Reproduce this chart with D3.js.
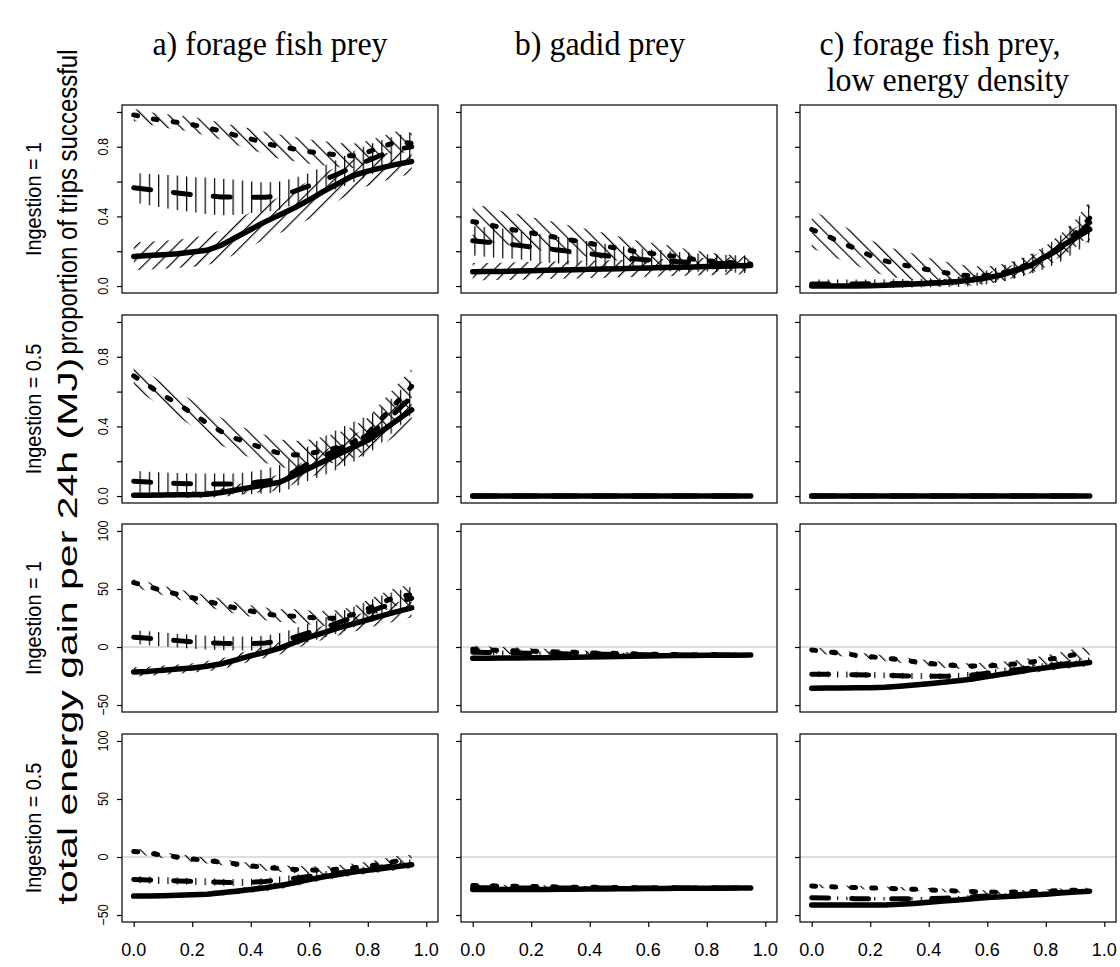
<!DOCTYPE html>
<html>
<head>
<meta charset="utf-8">
<script src="https://cdn.jsdelivr.net/npm/d3@7"></script>
<style>
  body { margin: 0; background: #fff; }
  svg { display: block; }
  text { font-family: "Liberation Sans", Arial, sans-serif; fill: #000; }
  .title { font-family: "Liberation Serif", "Times New Roman", serif; font-size: 34px; }
</style>
</head>
<body>
<svg id="chart" width="1120" height="967"></svg>
<script>
// proportion of colony in the good area (x axis)
const xVals = [0, 0.05, 0.1, 0.15, 0.2, 0.25, 0.3, 0.35, 0.4, 0.45, 0.5, 0.55, 0.6, 0.65, 0.7, 0.75, 0.8, 0.85, 0.9, 0.95];

const colTitles = ["a) forage fish prey", "b) gadid prey", "c) forage fish prey,"];
const colTitles2 = ["", "", "low energy density"];
const rowLabels = ["Ingestion = 1", "Ingestion = 0.5", "Ingestion = 1", "Ingestion = 0.5"];
const propLabel = "proportion of trips successful";
const energyLabel = "total energy gain per 24h (MJ)";

const propTicks = [0, 0.2, 0.4, 0.6, 0.8, 1.0];
const propTickLabels = [0, 0.4, 0.8];
const energyTicks = [-50, 0, 50, 100];
const xTicks = [0, 0.2, 0.4, 0.6, 0.8, 1.0];

// ---- row 1: proportion successful, ingestion = 1
const r1a_s = [.17,.175,.18,.185,.195,.205,.235,.28,.325,.37,.41,.45,.495,.545,.59,.635,.66,.68,.70,.715];
const r1a_s_ci = [.08,.08,.08,.08,.085,.085,.09,.095,.1,.1,.105,.11,.11,.105,.1,.09,.085,.08,.075,.07];
const r1a_d = [.983,.965,.95,.94,.927,.91,.89,.865,.845,.82,.80,.787,.772,.762,.752,.748,.77,.8,.83,.82];
const r1a_d_ci = [.035,.035,.04,.04,.045,.045,.05,.055,.06,.065,.07,.07,.07,.07,.07,.07,.065,.06,.06,.06];
const r1a_dd = [.565,.555,.545,.535,.525,.518,.512,.51,.51,.51,.52,.545,.575,.61,.645,.685,.72,.755,.785,.80];
const r1a_dd_ci = [.085,.09,.095,.1,.1,.105,.105,.1,.09,.085,.08,.075,.075,.08,.085,.09,.09,.085,.08,.08];

const r1b_s = [.082,.083,.084,.086,.088,.09,.092,.094,.096,.098,.1,.102,.104,.106,.108,.11,.112,.114,.116,.118];
const r1b_s_ci = [.05,.05,.05,.05,.05,.05,.05,.05,.05,.05,.05,.05,.05,.05,.05,.05,.05,.05,.05,.05];
const r1b_d = [.37,.355,.335,.32,.305,.29,.275,.26,.245,.23,.215,.2,.19,.18,.168,.155,.145,.138,.132,.126];
const r1b_d_ci = [.1,.1,.095,.095,.09,.09,.085,.08,.08,.075,.07,.065,.06,.06,.055,.05,.05,.045,.045,.04];
const r1b_dd = [.26,.252,.245,.235,.225,.215,.205,.195,.185,.175,.165,.157,.15,.145,.14,.136,.133,.13,.127,.125];
const r1b_dd_ci = [.085,.085,.085,.08,.08,.08,.075,.075,.07,.07,.065,.065,.06,.06,.055,.055,.05,.05,.05,.05];

const r1c_s = [0,0,0,0,.002,.005,.008,.012,.016,.02,.026,.036,.048,.064,.09,.12,.17,.225,.275,.325];
const r1c_s_ci = [.01,.01,.01,.01,.01,.012,.014,.016,.018,.02,.022,.025,.03,.035,.04,.045,.05,.055,.06,.065];
const r1c_d = [.325,.29,.25,.215,.175,.145,.125,.11,.093,.078,.065,.058,.062,.075,.1,.13,.17,.23,.3,.39];
const r1c_d_ci = [.11,.105,.1,.095,.09,.085,.08,.075,.07,.065,.06,.055,.05,.05,.05,.055,.06,.07,.08,.1];
const r1c_dd = [.012,.012,.012,.012,.013,.014,.015,.016,.018,.02,.025,.035,.05,.07,.095,.125,.165,.215,.28,.365];
const r1c_dd_ci = [.025,.025,.025,.025,.025,.025,.025,.025,.025,.025,.03,.035,.04,.045,.05,.055,.065,.075,.09,.11];

// ---- row 2: proportion successful, ingestion = 0.5
const r2a_s = [.005,.005,.006,.007,.008,.01,.02,.035,.05,.063,.08,.12,.16,.2,.24,.28,.32,.375,.435,.495];
const r2a_s_ci = [.015,.015,.015,.015,.02,.02,.025,.03,.035,.04,.045,.05,.055,.06,.065,.07,.075,.08,.085,.09];
const r2a_d = [.69,.635,.58,.53,.475,.42,.37,.33,.3,.27,.245,.236,.245,.26,.28,.31,.36,.45,.54,.63];
const r2a_d_ci = [.07,.07,.07,.07,.075,.075,.08,.08,.08,.08,.08,.08,.08,.08,.085,.09,.09,.095,.1,.1];
const r2a_dd = [.085,.08,.075,.072,.07,.069,.069,.07,.075,.085,.1,.14,.19,.23,.27,.31,.35,.41,.49,.57];
const r2a_dd_ci = [.06,.06,.06,.06,.06,.06,.06,.06,.065,.07,.08,.09,.1,.11,.115,.115,.11,.1,.1,.1];

// gadid and low-energy prey never succeed at ingestion = 0.5
const r2_none = [0,0,0,0,0,0,0,0,0,0,0,0,0,0,0,0,0,0,0,0];

// ---- row 3: energy gain, ingestion = 1
const r3a_s = [-21.5,-21,-20,-19,-18,-16.5,-14.5,-11,-7.5,-4.5,-1,4,8.5,12.5,16.5,20,23.5,27,30.5,33.7];
const r3a_s_ci = [4,4,4,4,4,4.5,4.5,5,5,5,5.5,5.5,6,6,6.5,7,7,7.5,8,8];
const r3a_d = [55.5,52,48.5,45.5,42.5,39.5,36.5,33.5,31,28.5,27,26.5,25.5,24.5,25,28,33,38.5,43.5,45];
const r3a_d_ci = [4,4,4,4.5,4.5,5,5,5,5,5.5,5.5,6,6,6.5,7,7,7.5,8,8,8.5];
const r3a_dd = [8.5,7.5,6.5,5.5,4.5,3.8,3.2,3,3,3.5,5,8.5,12.5,16.5,21,25.5,30,34.5,38.5,42];
const r3a_dd_ci = [6,6,6,6,6,6,6,6,6,6.5,7,7.5,8,8.5,9,9,9.5,10,10,10];

const r3b_s = [-9.7,-9.6,-9.5,-9.4,-9.3,-9.2,-9,-8.8,-8.6,-8.4,-8.2,-8,-7.8,-7.6,-7.4,-7.3,-7.2,-7.1,-7,-6.9];
const r3b_s_ci = [1.5,1.5,1.5,1.5,1.5,1.5,1.5,1.5,1.5,1.5,1.5,1.5,1.5,1.5,1.5,1.5,1.5,1.5,1.5,1.5];
const r3b_d = [-2,-2.5,-3,-3.3,-3.6,-4,-4.3,-4.6,-5,-5.3,-5.6,-5.9,-6.1,-6.3,-6.5,-6.6,-6.7,-6.8,-6.8,-6.9];
const r3b_d_ci = [3,3,3,2.8,2.6,2.4,2.2,2,1.8,1.6,1.5,1.4,1.3,1.2,1.1,1,1,1,1,1];
const r3b_dd = [-4.5,-4.8,-5,-5.2,-5.4,-5.6,-5.8,-6,-6.2,-6.3,-6.4,-6.5,-6.6,-6.7,-6.8,-6.8,-6.9,-6.9,-6.9,-6.9];
const r3b_dd_ci = [2,2,2,2,2,1.8,1.8,1.6,1.6,1.5,1.4,1.3,1.2,1.1,1,1,1,1,1,1];

const r3c_s = [-35.5,-35.4,-35.3,-35.2,-35,-34.6,-33.8,-32.8,-31.6,-30.3,-29,-27.5,-25.5,-23.5,-21.5,-19.5,-17.8,-16.2,-14.8,-13.4];
const r3c_s_ci = [2,2,2,2,2,2,2,2,2,2,2,2,2.2,2.4,2.6,2.8,3,3,3,3];
const r3c_d = [-2.5,-4,-5.5,-7,-8.3,-9.5,-11,-12.5,-14,-15.3,-16.2,-16.4,-16.2,-15.6,-14.5,-13,-11,-9,-6.5,-5];
const r3c_d_ci = [2.5,2.5,2.5,2.5,2.5,2.5,2.5,2.5,2.5,2.5,2.5,2.5,2.8,3,3.3,3.6,4,4.5,5,5.5];
const r3c_dd = [-23.4,-23.5,-23.7,-23.9,-24.1,-24.4,-24.7,-25,-25.2,-25.3,-25,-24,-22.5,-21,-19.5,-18,-16.5,-15,-13.5,-12];
const r3c_dd_ci = [2.5,2.5,2.5,2.5,2.5,2.5,2.5,2.5,2.5,2.5,2.5,2.8,3,3,3,3,3,3,3,3];

// ---- row 4: energy gain, ingestion = 0.5
const r4a_s = [-33.7,-33.6,-33.4,-33,-32.5,-32,-30.8,-29.5,-28,-26.5,-24.5,-22.3,-19.5,-17,-15,-13,-11.5,-10,-8.3,-6.6];
const r4a_s_ci = [2,2,2,2,2,2.2,2.4,2.6,2.8,3,3,3,3,3,3,3,3,3,3,3];
const r4a_d = [4.8,3.5,1.5,0,-1.7,-3,-4.5,-6,-7.6,-9,-10,-10.7,-11.2,-11.5,-10.5,-9.3,-8,-6,-3.5,-3];
const r4a_d_ci = [2.5,2.5,2.5,2.5,2.5,2.5,2.5,2.5,2.5,2.8,3,3,3.2,3.4,3.6,3.8,4,4.3,4.6,5];
const r4a_dd = [-19.4,-19.8,-20.2,-20.6,-21,-21.4,-21.8,-22,-21.8,-21,-19.8,-18.3,-16.8,-15.2,-13.7,-12.2,-10.7,-9,-7,-5];
const r4a_dd_ci = [3,3,3,3,3,3,3,3,3,3,3,3,3,3,3,3,3,3,3,3];

const r4b_s = [-28,-28,-28,-28,-28,-27.9,-27.8,-27.7,-27.6,-27.5,-27.4,-27.3,-27.2,-27.1,-27,-27,-26.9,-26.9,-26.8,-26.8];
const r4b_s_ci = [1,1,1,1,1,1,1,1,1,1,1,1,1,1,1,1,1,1,1,1];
const r4b_d = [-24.5,-24.7,-25,-25.2,-25.4,-25.6,-25.8,-26,-26.1,-26.2,-26.3,-26.4,-26.5,-26.6,-26.6,-26.7,-26.7,-26.8,-26.8,-26.8];
const r4b_d_ci = [1.2,1.2,1.2,1.2,1.2,1.2,1.1,1.1,1.1,1.1,1,1,1,1,1,1,1,1,1,1];
const r4b_dd = [-26.5,-26.5,-26.6,-26.6,-26.7,-26.7,-26.8,-26.8,-26.8,-26.8,-26.8,-26.8,-26.8,-26.8,-26.8,-26.8,-26.8,-26.8,-26.8,-26.8];
const r4b_dd_ci = [1,1,1,1,1,1,1,1,1,1,1,1,1,1,1,1,1,1,1,1];

const r4c_s = [-41.4,-41.4,-41.4,-41.4,-41.4,-41.3,-40.8,-40,-39,-38,-37,-36,-35,-34.2,-33.5,-32.8,-32,-31,-30.2,-29.4];
const r4c_s_ci = [1.5,1.5,1.5,1.5,1.5,1.5,1.5,1.5,1.5,1.5,1.5,1.5,1.5,1.5,1.5,1.5,1.5,1.5,1.5,1.5];
const r4c_d = [-25,-25.5,-26,-26.3,-26.6,-27,-27.4,-27.8,-28.3,-28.8,-29.3,-29.8,-30.2,-30.3,-30.1,-29.8,-29.4,-29,-28.6,-28.5];
const r4c_d_ci = [1.5,1.5,1.5,1.5,1.5,1.5,1.5,1.5,1.5,1.5,1.5,1.5,1.5,1.5,1.5,1.6,1.7,1.8,1.9,2];
const r4c_dd = [-35,-35.3,-35.6,-35.9,-36,-36,-36,-36,-35.8,-35.5,-35,-34.3,-33.6,-33,-32.4,-31.8,-31.2,-30.6,-30,-29.5];
const r4c_dd_ci = [1.5,1.5,1.5,1.5,1.5,1.5,1.5,1.5,1.5,1.5,1.5,1.5,1.5,1.5,1.5,1.5,1.5,1.5,1.5,1.5];

const panelData = [
  [[r1a_s, r1a_s_ci, r1a_d, r1a_d_ci, r1a_dd, r1a_dd_ci],
   [r1b_s, r1b_s_ci, r1b_d, r1b_d_ci, r1b_dd, r1b_dd_ci],
   [r1c_s, r1c_s_ci, r1c_d, r1c_d_ci, r1c_dd, r1c_dd_ci]],
  [[r2a_s, r2a_s_ci, r2a_d, r2a_d_ci, r2a_dd, r2a_dd_ci],
   [r2_none, r2_none, r2_none, r2_none, r2_none, r2_none],
   [r2_none, r2_none, r2_none, r2_none, r2_none, r2_none]],
  [[r3a_s, r3a_s_ci, r3a_d, r3a_d_ci, r3a_dd, r3a_dd_ci],
   [r3b_s, r3b_s_ci, r3b_d, r3b_d_ci, r3b_dd, r3b_dd_ci],
   [r3c_s, r3c_s_ci, r3c_d, r3c_d_ci, r3c_dd, r3c_dd_ci]],
  [[r4a_s, r4a_s_ci, r4a_d, r4a_d_ci, r4a_dd, r4a_dd_ci],
   [r4b_s, r4b_s_ci, r4b_d, r4b_d_ci, r4b_dd, r4b_dd_ci],
   [r4c_s, r4c_s_ci, r4c_d, r4c_d_ci, r4c_dd, r4c_dd_ci]]
];

// ---- layout
const colLeft = [122, 461, 800];
const rowTop = [105, 315, 524, 734];
const panelW = 316, panelH = 188;
const titleX = [270, 600, 940];
const title2X = [0, 0, 948];

const lineStyle = {
  solid:   { width: 5.5, dash: null },
  dashed:  { width: 5,   dash: "4,16" },
  dotdash: { width: 5,   dash: "17,23" }
};
// hatch angle of each series' confidence band
const hatchAngle = { solid: 45, dashed: -45, dotdash: 0 };
const seriesOrder = ["solid", "dashed", "dotdash"];

const svg = d3.select("#chart");
const defs = svg.append("defs");

Object.entries(hatchAngle).forEach(([name, angle]) => {
  const p = defs.append("pattern")
    .attr("id", "hatch-" + name)
    .attr("patternUnits", "userSpaceOnUse")
    .attr("width", 9.3)
    .attr("height", 9.3)
    .attr("patternTransform", `rotate(${angle})`);
  p.append("line")
    .attr("x1", 0.6).attr("y1", -1)
    .attr("x2", 0.6).attr("y2", 10.3)
    .attr("stroke", "#000")
    .attr("stroke-width", 1.2);
});

// narrow-ish text like the original device font
function squeeze(sel, factor) {
  sel.each(function() {
    const len = this.getComputedTextLength();
    d3.select(this).attr("textLength", len * factor).attr("lengthAdjust", "spacingAndGlyphs");
  });
}

function drawPanel(row, col) {
  const left = colLeft[col], top = rowTop[row];
  const isProp = row < 2;

  const x = d3.scaleLinear().domain([-0.04, 1.04]).range([left, left + panelW]);
  const y = isProp
    ? d3.scaleLinear().domain([-0.04, 1.04]).range([top + panelH, top])
    : d3.scaleLinear().domain([-56, 106]).range([top + panelH, top]);

  const clipId = `clip-${row}-${col}`;
  defs.append("clipPath").attr("id", clipId)
    .append("rect")
    .attr("x", left).attr("y", top)
    .attr("width", panelW).attr("height", panelH);

  const g = svg.append("g");
  const plot = g.append("g").attr("clip-path", `url(#${clipId})`);

  if (!isProp) {
    plot.append("line")
      .attr("x1", left).attr("x2", left + panelW)
      .attr("y1", y(0)).attr("y2", y(0))
      .attr("stroke", "#bebebe")
      .attr("stroke-width", 1.2);
  }

  const vals = panelData[row][col];
  seriesOrder.forEach((name, i) => {
    const mean = vals[i * 2], ci = vals[i * 2 + 1];
    const pts = xVals.map((xv, k) => ({ x: xv, lo: mean[k] - ci[k], hi: mean[k] + ci[k] }));

    const area = d3.area()
      .x(d => x(d.x))
      .y0(d => y(d.lo))
      .y1(d => y(d.hi));
    plot.append("path")
      .datum(pts)
      .attr("d", area)
      .attr("fill", `url(#hatch-${name})`)
      .attr("stroke", "none");
  });

  seriesOrder.forEach((name, i) => {
    const mean = vals[i * 2];
    const line = d3.line().x((d, k) => x(xVals[k])).y(d => y(d));
    const st = lineStyle[name];
    plot.append("path")
      .datum(mean)
      .attr("d", line)
      .attr("fill", "none")
      .attr("stroke", "#000")
      .attr("stroke-width", st.width)
      .attr("stroke-linecap", "round")
      .attr("stroke-linejoin", "round")
      .attr("stroke-dasharray", st.dash);
  });

  // box
  g.append("rect")
    .attr("x", left).attr("y", top)
    .attr("width", panelW).attr("height", panelH)
    .attr("fill", "none")
    .attr("stroke", "#000")
    .attr("stroke-width", 1.2);

  // y axis ticks
  const yAxis = d3.axisLeft(y)
    .tickValues(isProp ? propTicks : energyTicks)
    .tickSize(5)
    .tickFormat("");
  g.append("g")
    .attr("transform", `translate(${left},0)`)
    .call(yAxis)
    .call(a => a.select(".domain").remove())
    .selectAll("line").attr("stroke-width", 1.2);

  if (col === 0) {
    const labs = isProp ? propTickLabels : energyTicks;
    const fmt = isProp ? d3.format(".1f") : d3.format("d");
    labs.forEach(v => {
      g.append("text")
        .attr("transform", `translate(${left - 14},${y(v)}) rotate(-90)`)
        .attr("text-anchor", "middle")
        .attr("font-size", 14)
        .text(fmt(v))
        .call(squeeze, 0.9);
    });
  }

  if (row === 3) {
    const xAxis = d3.axisBottom(x)
      .tickValues(xTicks)
      .tickSize(5)
      .tickFormat("");
    g.append("g")
      .attr("transform", `translate(0,${top + panelH})`)
      .call(xAxis)
      .call(a => a.select(".domain").remove())
      .selectAll("line").attr("stroke-width", 1.2);
    xTicks.forEach(v => {
      g.append("text")
        .attr("x", x(v)).attr("y", 956)
        .attr("text-anchor", "middle")
        .attr("font-size", 18)
        .text(d3.format(".1f")(v));
    });
  }
}

for (let r = 0; r < 4; r++) {
  for (let c = 0; c < 3; c++) drawPanel(r, c);
}

// column titles
colTitles.forEach((t, c) => {
  svg.append("text").attr("class", "title")
    .attr("x", titleX[c]).attr("y", 55)
    .attr("text-anchor", "middle")
    .text(t)
    .call(squeeze, 0.94);
  if (colTitles2[c]) {
    svg.append("text").attr("class", "title")
      .attr("x", title2X[c]).attr("y", 91)
      .attr("text-anchor", "middle")
      .text(colTitles2[c])
      .call(squeeze, 0.94);
  }
});

// row labels
rowLabels.forEach((t, r) => {
  svg.append("text")
    .attr("transform", `translate(41,${rowTop[r] + panelH / 2}) rotate(-90)`)
    .attr("text-anchor", "middle")
    .attr("font-size", 22)
    .text(t)
    .call(squeeze, 0.9);
});

// outer y labels
svg.append("text")
  .attr("transform", "translate(77,202) rotate(-90)")
  .attr("text-anchor", "middle")
  .attr("font-size", 27)
  .attr("textLength", 305)
  .attr("lengthAdjust", "spacingAndGlyphs")
  .text(propLabel);
svg.append("text")
  .attr("transform", "translate(77,631) rotate(-90)")
  .attr("text-anchor", "middle")
  .attr("font-size", 27)
  .attr("textLength", 547)
  .attr("lengthAdjust", "spacingAndGlyphs")
  .text(energyLabel);
</script>
</body>
</html>
